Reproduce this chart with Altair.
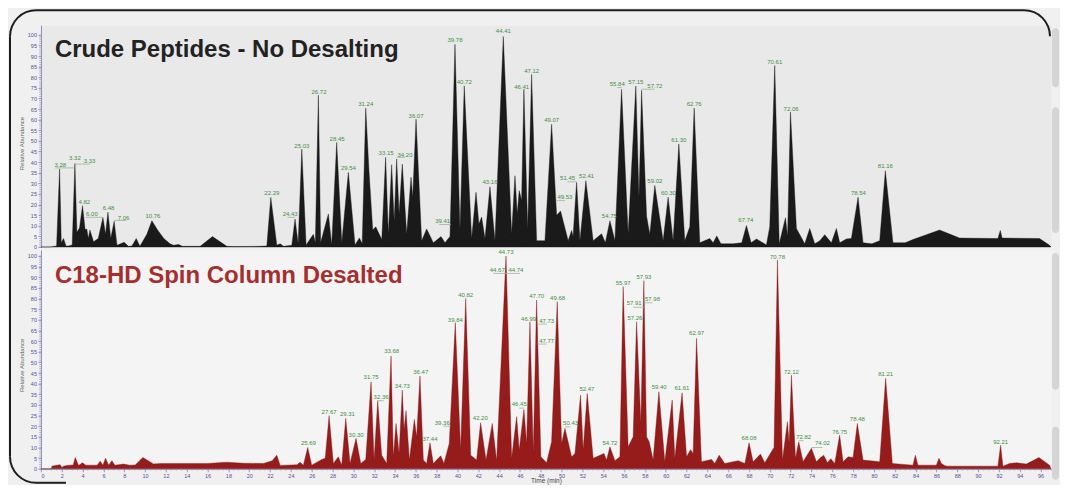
import altair as alt
import pandas as pd

# ---------------- data ----------------
top_time = [0.0, 0.9, 1.5, 1.79, 1.95, 2.17, 2.4, 2.65, 3.0, 3.26, 3.45, 3.7, 3.99, 4.24, 4.4, 4.55, 4.7, 5.05, 5.5, 5.95,
            6.2, 6.43, 6.7, 7.03, 7.3, 7.99, 8.4, 8.73, 9.15, 9.5, 10.17, 10.65, 11.2, 11.8, 12.4, 12.73, 13.2, 13.6, 15.29, 16.47,
            17.85, 18.5, 21.0, 21.69, 22.07, 22.65, 22.97, 23.3, 24.09, 24.4, 24.7, 25.05, 25.46, 26.16, 26.35, 26.64, 26.86, 27.6, 27.92, 28.4,
            28.89, 29.52, 30.16, 30.58, 30.85, 31.19, 31.5, 31.86, 32.15, 32.73, 33.1, 33.36, 33.68, 33.92, 34.16, 34.39, 34.7, 35.12, 35.54, 35.7,
            36.02, 36.56, 37.04, 37.68, 38.42, 38.8, 39.28, 39.76, 40.24, 40.65, 41.36, 41.78, 42.06, 42.32, 42.64, 43.12, 43.6, 44.4, 45.2, 45.52,
            45.74, 45.93, 46.16, 46.38, 46.74, 47.12, 47.6, 48.08, 48.4, 49.04, 49.52, 49.9, 50.63, 50.96, 51.1, 51.44, 51.76, 52.33, 53.03, 53.84,
            54.2, 54.64, 55.12, 55.76, 56.39, 57.13, 57.43, 57.68, 58.16, 58.47, 58.95, 59.75, 60.23, 60.71, 61.26, 61.83, 62.31, 62.73, 63.27, 64.23,
            64.55, 64.9, 65.3, 66.47, 67.3, 67.75, 68.2, 68.71, 69.67, 69.99, 70.47, 70.9, 71.5, 71.7, 71.98, 72.55, 73.35, 73.83, 74.31, 74.8,
            75.27, 75.91, 76.39, 76.71, 77.35, 77.83, 78.47, 78.95, 79.8, 80.55, 81.09, 81.82, 83.0, 83.74, 86.3, 88.22, 91.9, 92.13, 92.3, 95.9,
            96.86, 97.0]
top_abund = [0, 0, 0.5, 36.8, 2, 4, 0.5, 0.5, 1, 39.4, 7, 9, 19.5, 8.2, 8.5, 4, 8, 2.5, 4, 13.9,
             6, 16.4, 4, 12.2, 0.8, 2.2, 0.3, 0.5, 4, 0.3, 6, 12.4, 8, 4, 1.5, 0.8, 1.2, 0.3, 0.3, 4.9,
             0.3, 0.2, 0.3, 0.5, 23.4, 0.8, 1.5, 0.3, 0.8, 13.2, 1.5, 46.2, 1, 6, 2, 71.6, 2, 15.6, 1, 49.3,
             2, 35.2, 1, 4.3, 1.5, 65.5, 36, 8, 9.5, 3.5, 42.3, 6, 38.8, 12, 41.5, 15.6, 39.1, 6, 32.9, 23.4,
             60.3, 3, 8.5, 2, 4.9, 2, 5, 95.6, 8, 76, 4, 25.8, 10.9, 14.1, 4, 28.4, 3, 99.3, 6, 33.6,
             15.6, 26.6, 21.9, 74.4, 8, 81.4, 3, 3, 3, 57.9, 15, 17, 3, 7.8, 5, 30.5, 3, 31.3, 3, 6.2,
             2, 12.4, 3, 74.4, 6, 75.9, 23, 73.9, 14.5, 6, 29, 3, 23.5, 3, 48.6, 3, 9.5, 65.5, 2, 4,
             2, 5.2, 1.5, 1.5, 2, 10.1, 2, 3.8, 1, 9.6, 85.6, 1.5, 13.8, 5, 63.7, 8.7, 1.5, 8.7, 1.5, 3,
             5.8, 2, 8.7, 2, 3.8, 4, 23.5, 2, 1.5, 3, 36, 2, 2, 3.5, 8, 4.2, 4, 7.8, 4.2, 4,
             0.8, 0]

bot_time = [0.0, 1.0, 1.05, 1.53, 1.85, 2.01, 2.17, 2.49, 3.1, 3.29, 3.61, 3.99, 4.3, 5.4, 5.69, 5.95, 6.2, 6.5, 6.81, 7.1,
            7.93, 8.5, 9.05, 9.79, 10.81, 11.5, 16.0, 17.8, 19.5, 21.36, 22.2, 22.65, 22.97, 24.6, 24.88, 25.2, 25.62, 26.0, 26.97, 27.3,
            27.67, 28.08, 28.56, 28.88, 29.27, 29.68, 30.26, 30.71, 31.19, 31.7, 31.99, 32.34, 32.72, 33.2, 33.62, 33.84, 34.1, 34.39, 34.7, 34.87,
            35.06, 35.38, 35.86, 36.08, 36.4, 36.72, 37.04, 37.36, 37.68, 38.39, 38.7, 39.21, 39.79, 40.3, 40.79, 41.27, 41.84, 42.22, 42.74, 43.34,
            43.76, 44.66, 45.2, 45.68, 45.93, 46.38, 46.64, 46.96, 47.28, 47.6, 48.01, 48.56, 49.04, 49.58, 50.0, 50.32, 50.96, 51.28, 51.82, 52.07,
            52.46, 53.03, 54.07, 54.32, 54.64, 55.12, 55.6, 55.91, 56.39, 56.87, 57.2, 57.61, 57.9, 58.16, 58.41, 58.79, 59.34, 59.91, 60.62, 60.87,
            61.57, 62.0, 62.38, 62.63, 62.96, 63.43, 64.4, 64.71, 65.13, 65.67, 66.95, 67.6, 68.0, 68.39, 69.1, 69.51, 70.25, 70.4, 70.73, 71.21,
            71.69, 71.85, 72.07, 72.46, 72.77, 73.19, 73.99, 74.47, 74.79, 75.17, 75.53, 75.85, 76.23, 76.7, 77.03, 77.51, 77.99, 78.4, 78.95, 80.55,
            81.12, 81.76, 83.74, 83.97, 84.22, 85.99, 86.24, 86.47, 86.78, 87.0, 91.9, 92.16, 92.38, 93.02, 93.67, 94.63, 95.84, 96.86, 97.0]
bot_abund = [0, 0, 1.25, 1.7, 1.9, 0.6, 1.25, 1.6, 1.8, 5.3, 1.6, 2.8, 1.7, 1.7, 3.6, 1.7, 5.0, 1.7, 3.8, 1.7,
             2.2, 1.7, 1.8, 5.3, 2.3, 2.5, 2.5, 3.1, 2.6, 2.5, 3.8, 6.4, 1.6, 1.9, 3.1, 1.7, 10.0, 1.7, 4.4, 5.0,
             25.0, 2.5, 5.6, 1.7, 23.7, 2.5, 14.3, 2.5, 4.4, 40.9, 4.0, 32.0, 6.4, 2.5, 53.0, 5.6, 21.3, 7.2, 37.0, 18.2,
             27.3, 4.1, 23.2, 15.0, 43.6, 4.1, 2.5, 12.2, 2.5, 6.1, 2.5, 11.9, 68.7, 8.8, 80.0, 6.4, 4.1, 21.6, 4.1, 21.3,
             3.8, 100.0, 4.9, 24.5, 8.8, 27.9, 11.9, 69.0, 7.2, 79.3, 5.6, 2.8, 12.7, 78.5, 11.9, 19.0, 5.6, 7.2, 34.6, 8.8,
             35.4, 4.9, 7.2, 4.1, 10.3, 3.8, 5.6, 85.6, 10.3, 15.0, 69.1, 21.3, 88.4, 15.0, 12.7, 4.1, 36.2, 3.3, 32.3, 4.9,
             35.7, 5.6, 9.0, 7.2, 61.3, 3.3, 4.4, 2.5, 6.4, 2.5, 3.8, 2.5, 12.2, 3.3, 6.9, 2.8, 8.8, 10.0, 98.1, 4.1,
             22.1, 11.9, 44.0, 4.9, 12.7, 3.3, 9.6, 3.3, 4.9, 6.4, 2.8, 4.7, 2.5, 15.8, 3.3, 5.6, 5.3, 21.3, 4.1, 3.3,
             42.5, 2.5, 1.7, 6.4, 1.7, 1.7, 4.9, 2.5, 1.6, 1.25, 1.25, 11.1, 1.25, 2.5, 2.8, 2.2, 5.3, 1.7, 0]

top_labels = ["3.28", "3.32", "3.33", "4.82", "6.00", "6.48", "7.06", "10.76", "22.29", "24.43", "25.03", "26.72", "28.45",
              "29.54", "31.24", "33.15", "34.20", "36.07", "39.41", "39.78", "40.72", "43.16", "44.41", "46.41", "47.12", "49.07",
              "49.53", "51.45", "52.41", "54.75", "55.84", "57.15", "57.72", "59.02", "60.30", "61.30", "62.76", "67.74", "70.61",
              "72.06", "78.54", "81.16"]
top_label_t = [1.85, 3.26, 4.67, 4.16, 4.89, 6.49, 7.93, 10.75, 22.17, 23.93, 25.05, 26.70, 28.44,
               29.53, 31.19, 33.14, 34.96, 36.02, 38.58, 39.76, 40.65, 43.12, 44.40, 46.16, 47.12, 49.04,
               50.32, 50.57, 52.40, 54.58, 55.34, 57.13, 58.95, 58.95, 60.26, 61.26, 62.73, 67.69, 70.47,
               72.04, 78.50, 81.09]
top_label_v = [38.8, 42.0, 40.5, 21.4, 15.6, 18.4, 13.7, 14.8, 25.3, 15.6, 47.8, 73.2, 50.9,
               37.1, 67.4, 44.3, 43.5, 61.8, 12.1, 97.6, 77.7, 30.5, 101.7, 75.5, 83.2, 59.9,
               23.4, 32.6, 33.3, 14.5, 76.8, 77.9, 76.1, 31.0, 25.5, 50.3, 67.4, 12.8, 87.3,
               65.0, 25.5, 38.0]
top_lead_t1 = [1.37, 3.33, 4.30, 7.03, 23.67, 34.16, 38.25, 49.52, 50.57, 55.34, 57.68]
top_lead_t2 = [3.20, 4.73, 5.95, 8.20, 24.40, 34.96, 39.35, 50.32, 51.44, 55.76, 58.95]
top_lead_v = [37.3, 39.1, 14.0, 12.5, 14.0, 42.3, 10.6, 21.9, 30.8, 75.2, 74.4]

bot_labels = ["25.69", "27.67", "29.31", "30.30", "31.75", "32.36", "33.68", "34.73", "36.47", "37.44", "39.36", "39.84",
              "40.82", "42.20", "44.73", "44.67", "44.74", "46.45", "46.99", "47.70", "47.73", "47.77", "49.68", "50.43",
              "52.47", "54.72", "55.97", "57.91", "57.93", "57.98", "57.26", "59.40", "61.61", "62.97", "68.08", "70.78",
              "72.12", "72.82", "74.02", "76.75", "78.48", "81.21", "92.21"]
bot_label_t = [25.68, 27.67, 29.43, 30.26, 31.70, 32.66, 33.68, 34.70, 36.47, 37.36, 38.54, 39.79,
               40.79, 42.19, 44.66, 43.82, 45.61, 45.93, 46.83, 47.60, 48.56, 48.56, 49.61, 50.86,
               52.43, 54.64, 55.91, 56.97, 57.90, 58.73, 57.04, 59.37, 61.55, 62.96, 68.00, 70.73,
               72.07, 73.25, 75.05, 76.70, 78.40, 81.12, 92.16]
bot_label_v = [12.2, 26.8, 25.7, 16.1, 42.9, 33.7, 55.2, 39.0, 45.6, 14.1, 21.6, 70.0,
               81.7, 23.7, 101.7, 93.4, 93.4, 30.4, 70.2, 81.2, 69.6, 60.2, 80.4, 21.3,
               37.3, 12.2, 87.5, 77.7, 90.0, 79.6, 70.7, 38.6, 38.1, 63.6, 14.6, 99.7,
               45.6, 15.0, 11.9, 17.4, 23.5, 44.5, 12.7]
bot_lead_t1 = [32.34, 38.64, 43.44, 44.66, 45.93, 47.66, 47.66, 50.32, 56.87, 58.00, 72.77, 73.99]
bot_lead_t2 = [32.90, 39.35, 44.66, 46.00, 46.38, 48.56, 48.56, 50.86, 57.90, 58.73, 73.25, 75.05]
bot_lead_v = [32.0, 20.0, 91.8, 91.8, 28.5, 68.0, 58.6, 19.7, 75.9, 78.0, 13.2, 10.0]

y_major = list(range(0, 101, 5))
y_minor = list(range(0, 101))
x_major = list(range(0, 97, 2))
x_minor = [i / 2 for i in range(0, 195)]

TITLE_TOP = "Crude Peptides - No Desalting"
TITLE_BOT = "C18-HD Spin Column Desalted"

# ---------------- styling ----------------
W = 1011
H_TOP = 222
H_BOT = 219
FONT = "Liberation Sans"
GREEN = "#3f8f3f"
LEAD = "#9cb49c"
TICK = "#8c8cb8"
RED = "#961b1b"
BG = "#f0f0f0"
INK = "#1e1e1e"

top_df = pd.DataFrame({"t": top_time, "v": top_abund})
bot_df = pd.DataFrame({"t": bot_time, "v": bot_abund})
top_lab = pd.DataFrame({"t": top_label_t, "v": top_label_v, "lab": top_labels})
bot_lab = pd.DataFrame({"t": bot_label_t, "v": bot_label_v, "lab": bot_labels})
top_lead = pd.DataFrame({"t": top_lead_t1, "t2": top_lead_t2, "v": top_lead_v})
bot_lead = pd.DataFrame({"t": bot_lead_t1, "t2": bot_lead_t2, "v": bot_lead_v})
ymin_df = pd.DataFrame({"v": y_minor})
xmin_df = pd.DataFrame({"t": x_minor})


def y_axis(title_y):
    return alt.Axis(values=y_major, title="Relative Abundance", titleX=-19, titleY=title_y,
                    titleAngle=-90, titleAlign="center", titleBaseline="middle",
                    titleFontSize=6, titleColor="#666666", titleFontWeight="normal", titleFont=FONT,
                    labelFontSize=5.5, labelColor="#50509a", labelFont=FONT, labelPadding=1.5,
                    tickSize=3, tickColor=TICK, tickWidth=0.8, domainColor=TICK, domainWidth=1, grid=False)


x_scale = alt.Scale(domain=[0, 97], nice=False, zero=False)

# ---------- top panel ----------
XT = alt.X("t:Q", scale=x_scale, axis=None)
YT = alt.Y("v:Q", scale=alt.Scale(domain=[0, 104.6], nice=False), axis=y_axis(118))

one = alt.Data(values=[{"k": 1}])

# decorative frame: top and left edges with rounded corners (right side hidden behind tabs, bottom open)
FX1, FX2, FY1, FY2, FR = -31, 1010, -15, 458, 26
PI = 3.14159265


def edge(x1, x2, y1, y2):
    return alt.Chart(one).mark_rule(color=INK, strokeWidth=2, clip=False).encode(
        x=alt.value(x1), x2=alt.value(x2), y=alt.value(y1), y2=alt.value(y2))


def corner(cx, cy, a1, a2):
    return alt.Chart(one).mark_arc(color=INK, radius=FR + 1, radius2=FR - 1, theta=a1, theta2=a2, clip=False).encode(
        x=alt.value(cx), y=alt.value(cy))


frame = [
    edge(FX1 + FR, FX2 - FR, FY1, FY1),                 # top
    edge(FX1, FX1, FY1 + FR, FY2 - FR),                 # left
    edge(FX1 + FR, FX1 + FR + 30, FY2, FY2),            # short bottom-left piece
    corner(FX1 + FR, FY1 + FR, 1.5 * PI, 2 * PI),       # top-left
    corner(FX2 - FR, FY1 + FR, 0, 0.5 * PI),            # top-right
    corner(FX1 + FR, FY2 - FR, PI, 1.5 * PI),           # bottom-left
]

tab_specs = [(3, 62), (82, 208), (228, 365), (402, 455)]
tabs = [alt.Chart(one).mark_rect(fill="#d5d5d5", cornerRadius=4, clip=False).encode(
    x=alt.value(1012), x2=alt.value(1019), y=alt.value(a), y2=alt.value(b)) for a, b in tab_specs]

top_area = alt.Chart(top_df).mark_area(color="#1a1a1a", stroke="#111111", strokeWidth=0.4).encode(x=XT, y=YT)
top_minor = alt.Chart(ymin_df).mark_rule(color=TICK, strokeWidth=0.6, clip=False).encode(
    y=YT, x=alt.value(-1.8), x2=alt.value(0))
top_leads = alt.Chart(top_lead).mark_rule(color=LEAD, strokeWidth=0.8).encode(x=XT, x2="t2:Q", y=YT)
top_text = alt.Chart(top_lab).mark_text(fontSize=6, color=GREEN, font=FONT, baseline="middle", align="center").encode(
    x=XT, y=YT, text="lab:N")
top_title = alt.Chart(alt.Data(values=[{"s": TITLE_TOP}])).mark_text(
    align="left", baseline="alphabetic", fontSize=24, fontWeight="bold", font=FONT, color="#222222").encode(
    x=alt.value(14), y=alt.value(32), text="s:N")

top = alt.layer(*frame, *tabs, top_area, top_minor, top_leads, top_text, top_title).properties(
    width=W, height=H_TOP, view=alt.ViewBackground(fill="#e9e9e9", stroke="transparent"))

# ---------- bottom panel ----------
x_axis_bot = alt.Axis(values=x_major, title="Time (min)", titleFontSize=6.5, titleColor="#444444",
                      titleFontWeight="normal", titleFont=FONT, titleY=12, titleBaseline="middle",
                      labelFontSize=5.5, labelColor="#50509a", labelFont=FONT, labelPadding=1.5,
                      tickSize=3, tickColor=TICK, tickWidth=0.8, domainColor=TICK, domainWidth=1, grid=False)
XB = alt.X("t:Q", scale=x_scale, axis=x_axis_bot)
YB = alt.Y("v:Q", scale=alt.Scale(domain=[0, 102.8], nice=False), axis=y_axis(115))

bot_area = alt.Chart(bot_df).mark_area(color=RED, stroke="#7e1515", strokeWidth=0.4).encode(x=XB, y=YB)
bot_minor_y = alt.Chart(ymin_df).mark_rule(color=TICK, strokeWidth=0.6, clip=False).encode(
    y=YB, x=alt.value(-1.8), x2=alt.value(0))
bot_minor_x = alt.Chart(xmin_df).mark_rule(color=TICK, strokeWidth=0.6, clip=False).encode(
    x=XB, y=alt.value(H_BOT), y2=alt.value(H_BOT + 1.8))
bot_leads = alt.Chart(bot_lead).mark_rule(color=LEAD, strokeWidth=0.8).encode(x=XB, x2="t2:Q", y=YB)
bot_text = alt.Chart(bot_lab).mark_text(fontSize=6, color=GREEN, font=FONT, baseline="middle", align="center").encode(
    x=XB, y=YB, text="lab:N")
bot_title = alt.Chart(alt.Data(values=[{"s": TITLE_BOT}])).mark_text(
    align="left", baseline="alphabetic", fontSize=24, fontWeight="bold", font=FONT, color="#a52f2f").encode(
    x=alt.value(14), y=alt.value(33), text="s:N")

bottom = alt.layer(bot_area, bot_minor_y, bot_minor_x, bot_leads, bot_text, bot_title).properties(
    width=W, height=H_BOT, view=alt.ViewBackground(fill="#f4f4f4", stroke="transparent"))

chart = alt.vconcat(top, bottom, spacing=3, bounds="flush").properties(
    padding=0, background=BG
).configure_view(stroke="transparent")

chart.save("out.html", embed_options={"renderer": "svg", "actions": False})
